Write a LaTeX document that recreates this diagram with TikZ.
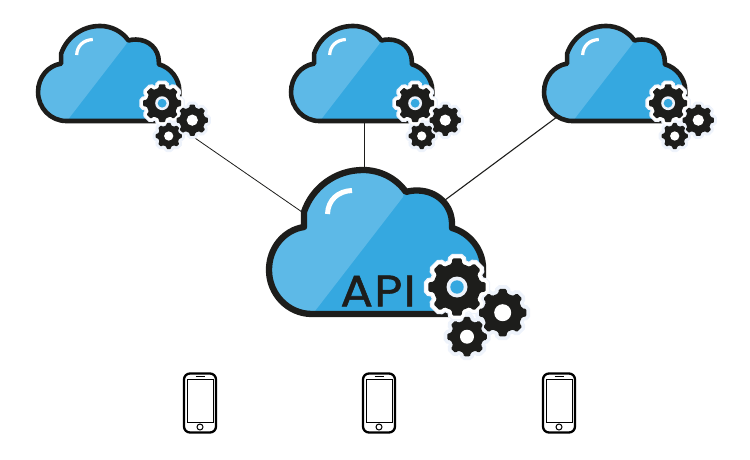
\documentclass[tikz,border=0pt]{standalone}
\usepackage{fontspec}
\newfontfamily\apifont[FakeBold=1.2,FakeStretch=1.1,LetterSpace=3]{Poppins}
\definecolor{inkblack}{HTML}{1D1D1B}
\definecolor{skylight}{HTML}{5DB9E7}
\definecolor{skydark}{HTML}{35A8E0}
\definecolor{gearhalo}{HTML}{EEF3FB}
\newcommand{\gearshape}[4]{%
  \path[shift={(#1,#2)},rounded corners=\cloudscale*1.2pt,#4]
    (-13:#3*.82) \foreach \a in {0,45,...,315} {
      -- (\a-13:#3*.82) -- (\a-9:#3) -- (\a+9:#3) -- (\a+13:#3*.82)
    } -- cycle;
}
% x, y, scale, outline width, highlight width, halo width
\newcommand{\cloudgears}[6]{%
  \def\cloudscale{#3}
  \begin{scope}[shift={(#1,#2)},scale=#3,shift={(-375,-242)}]
  \def\cloudpath{(312,314) .. controls (288,314) and (269,294) .. (269,270)
    .. controls (269,248) and (284,230) .. (304,227) -- (304,212)
    .. controls (312,188) and (335,170) .. (363,170)
    .. controls (380,170) and (396,178) .. (406,192)
    .. controls (409,191) and (413,190.5) .. (417,190.5)
    .. controls (437,190.5) and (452,205) .. (452,224) -- (452,228)
    .. controls (470,233) and (483,250) .. (483,268) -- (483,275)
    .. controls (483,295) and (465,314) .. (447,314) -- cycle}
  \begin{scope}
    \clip \cloudpath;
    \fill[skydark] (260,160) rectangle (490,320);
    \fill[skylight] (260,160) -- (411,160) -- (403,197) -- (315,311) -- (310,320) -- (260,320) -- cycle;
  \end{scope}
  \draw[inkblack,line width=#4,line join=round] \cloudpath;
  \draw[white,line width=#5] (327.5,214) .. controls (328,200) and (338,191) .. (352,190.5);
  % small gears first, big one on top
  \gearshape{502.7}{312.7}{24}{fill=gearhalo,draw=gearhalo,line width=#6}
  \gearshape{467}{336.7}{20}{fill=gearhalo,draw=gearhalo,line width=#6}
  \gearshape{457}{287}{29}{fill=white,draw=gearhalo,line width=#6+1.5pt}
  \gearshape{457}{287}{29}{fill=white,draw=white,line width=#6-1pt}
  \gearshape{502.7}{312.7}{24}{fill=inkblack}
  \gearshape{467}{336.7}{20}{fill=inkblack}
  \gearshape{457}{287}{29}{fill=inkblack}
  \fill[white] (502.7,312.7) circle (8.5);
  \fill[white] (467,336.7) circle (7);
  \fill[gearhalo] (457,287) circle (10.5);
  \fill[skydark] (457,287) circle (6.7);
  \end{scope}
}
\newcommand{\phoneicon}[1]{%
  \begin{scope}[shift={(#1,403)}]
  \draw[black,line width=2.3pt,rounded corners=6pt] (-16,-29.5) rectangle (16,29.5);
  \draw[black,line width=.9pt] (-13,-24) rectangle (13,19);
  \draw[black,line width=1pt] (-4.5,-26.5) -- (4.5,-26.5);
  \draw[black,line width=1pt] (0,24) circle (3);
  \end{scope}
}
\begin{document}
\begin{tikzpicture}[x=1pt,y=-1pt]
\useasboundingbox (0,0) rectangle (750,460);
\coordinate (cloudA) at (192,136);
\coordinate (cloudB) at (364.5,115);
\coordinate (cloudC) at (565,111);
\coordinate (apiA) at (310,217.5);
\coordinate (apiB) at (364.5,175);
\coordinate (apiC) at (437,206);
\draw[inkblack,line width=.8pt] (cloudA) -- (apiA);
\draw[inkblack,line width=.8pt] (cloudB) -- (apiB);
\draw[inkblack,line width=1.1pt] (cloudC) -- (apiC);
\cloudgears{108}{73.5}{.66}{4.6pt}{3.2pt}{6pt}
\cloudgears{361}{73.5}{.66}{4.6pt}{3.2pt}{6pt}
\cloudgears{614}{73.5}{.66}{4.6pt}{3.2pt}{6pt}
\cloudgears{375}{242}{1}{6.3pt}{5pt}{7.5pt}
\node[inkblack,font=\apifont\fontsize{44}{44}\selectfont,inner sep=0pt] (apilabel) at (378,291) {API};
\phoneicon{200}
\phoneicon{379}
\phoneicon{559}
\end{tikzpicture}
\end{document}
